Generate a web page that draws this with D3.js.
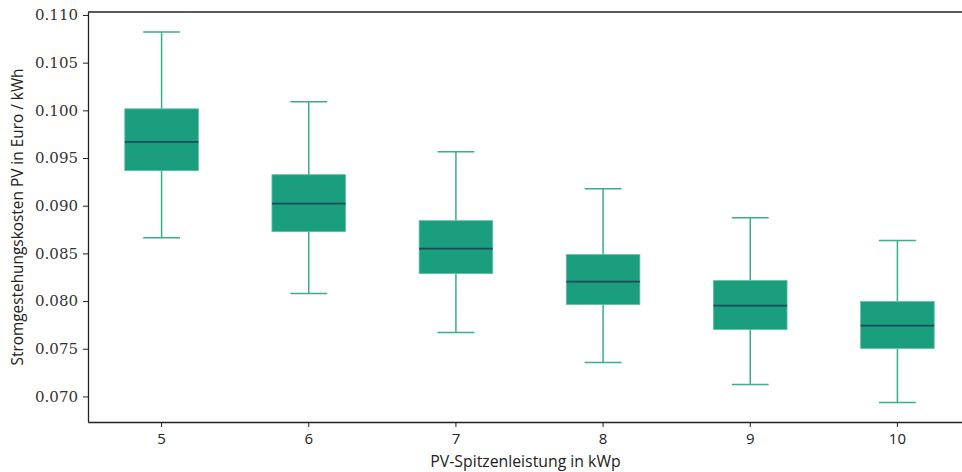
<!DOCTYPE html>
<html>
<head>
<meta charset="utf-8">
<script src="https://cdn.jsdelivr.net/npm/d3@7"></script>
<style>
  body { margin: 0; background: #fff; }
</style>
</head>
<body>
<svg width="962" height="472"></svg>
<script>
const categories = ["5", "6", "7", "8", "9", "10"];
const whisker_low = [0.08665, 0.08079, 0.07670, 0.07356, 0.07126, 0.06937];
const q1 = [0.09367, 0.08728, 0.08288, 0.07963, 0.07702, 0.07503];
const median = [0.09670, 0.09021, 0.08550, 0.08204, 0.07953, 0.07743];
const q3 = [0.10016, 0.09325, 0.08843, 0.08487, 0.08215, 0.07995];
const whisker_high = [0.10822, 0.10089, 0.09565, 0.09178, 0.08874, 0.08634];
const y_ticks = [0.070, 0.075, 0.080, 0.085, 0.090, 0.095, 0.100, 0.105, 0.110];

const x_label = "PV-Spitzenleistung in kWp";
const y_label = "Stromgestehungskosten PV in Euro / kWh";

const serif = "'DejaVu Serif', 'Liberation Serif', serif";
const sans = "'Open Sans', 'DejaVu Sans', sans-serif";

const margin = { left: 88, right: -9, top: 12, bottom: 50 };
const width = 962, height = 472;

const svg = d3.select("svg");

const boxes = categories.map((c, i) => ({
    cat: c,
    lo: whisker_low[i], q1: q1[i], med: median[i], q3: q3[i], hi: whisker_high[i]
}));

const x_scale = d3.scaleBand()
    .domain(categories)
    .range([margin.left, width - margin.right])
    .paddingInner(0.5)
    .paddingOuter(0.25);

const y_scale = d3.scaleLinear()
    .domain([0.06732, 0.11031])
    .range([height - margin.bottom, margin.top]);

const fill = "#1b9e7d";
const line_col = "#3aae8c";
const med_col = "#1d4a5c";

const g = svg.append("g");
const box_w = x_scale.bandwidth();
const cx = (d) => x_scale(d.cat) + box_w / 2;

// whiskers
g.selectAll(".whisker").data(boxes).join("line")
    .attr("x1", cx).attr("x2", cx)
    .attr("y1", (d) => y_scale(d.lo)).attr("y2", (d) => y_scale(d.q1))
    .attr("stroke", line_col).attr("stroke-width", 1.5);
g.selectAll(".whisker2").data(boxes).join("line")
    .attr("x1", cx).attr("x2", cx)
    .attr("y1", (d) => y_scale(d.q3)).attr("y2", (d) => y_scale(d.hi))
    .attr("stroke", line_col).attr("stroke-width", 1.5);

// caps
["lo", "hi"].forEach((k) => {
    g.selectAll(".cap-" + k).data(boxes).join("line")
        .attr("x1", (d) => cx(d) - box_w / 4).attr("x2", (d) => cx(d) + box_w / 4)
        .attr("y1", (d) => y_scale(d[k])).attr("y2", (d) => y_scale(d[k]))
        .attr("stroke", line_col).attr("stroke-width", 1.5);
});

// boxes
g.selectAll(".box").data(boxes).join("rect")
    .attr("x", (d) => x_scale(d.cat))
    .attr("width", box_w)
    .attr("y", (d) => y_scale(d.q3))
    .attr("height", (d) => y_scale(d.q1) - y_scale(d.q3))
    .attr("fill", fill)
    .attr("stroke", "#5fc0a2").attr("stroke-width", 0.8);

// medians
g.selectAll(".median").data(boxes).join("line")
    .attr("x1", (d) => x_scale(d.cat)).attr("x2", (d) => x_scale(d.cat) + box_w)
    .attr("y1", (d) => y_scale(d.med)).attr("y2", (d) => y_scale(d.med))
    .attr("stroke", med_col).attr("stroke-width", 1.8);

// axes
const x_axis = d3.axisBottom(x_scale).tickSize(5).tickSizeOuter(0).tickPadding(6);
const y_axis = d3.axisLeft(y_scale).tickValues(y_ticks).tickFormat(d3.format(".3f"))
    .tickSize(5).tickSizeOuter(0).tickPadding(5);

svg.append("g")
    .attr("transform", `translate(0,${height - margin.bottom})`)
    .call(x_axis)
    .call((a) => a.select(".domain").attr("stroke", "#222").attr("stroke-width", 1.3))
    .call((a) => a.selectAll(".tick line").attr("stroke", "#222"))
    .call((a) => a.selectAll("text").attr("fill", "#222")
        .style("font-family", sans).style("font-size", "15px"));

svg.append("g")
    .attr("transform", `translate(${margin.left},0)`)
    .call(y_axis)
    .call((a) => a.select(".domain").attr("stroke", "#222").attr("stroke-width", 1.3))
    .call((a) => a.selectAll(".tick line").attr("stroke", "#222"))
    .call((a) => a.selectAll("text").attr("fill", "#333")
        .style("font-family", serif).style("font-size", "15px"));

// top spine
svg.append("line")
    .attr("x1", margin.left).attr("x2", width - margin.right)
    .attr("y1", margin.top).attr("y2", margin.top)
    .attr("stroke", "#222").attr("stroke-width", 1.3);

// labels
svg.append("text")
    .attr("x", (margin.left + width - margin.right) / 2 - 4)
    .attr("y", height - 5)
    .attr("text-anchor", "middle")
    .attr("fill", "#222")
    .style("font-family", sans).style("font-size", "15.8px")
    .text(x_label);

svg.append("text")
    .attr("text-anchor", "middle")
    .attr("transform", `translate(23, ${(margin.top + height - margin.bottom) / 2}) rotate(-90)`)
    .attr("fill", "#222")
    .style("font-family", sans).style("font-size", "15.4px")
    .text(y_label);
</script>
</body>
</html>
